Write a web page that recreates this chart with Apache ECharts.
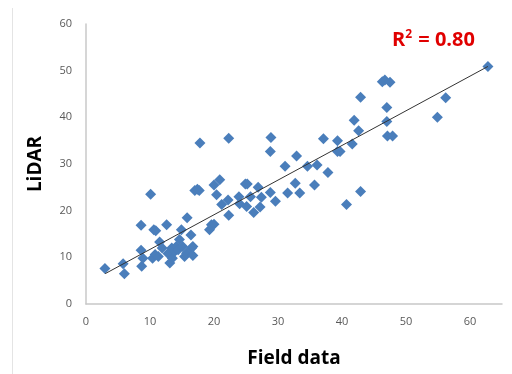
<!DOCTYPE html>
<html>
<head>
<meta charset="utf-8">
<script src="https://cdn.jsdelivr.net/npm/echarts@6/dist/echarts.min.js"></script>
<style>html,body{margin:0;padding:0;background:#fff}#c{width:512px;height:374px}</style>
</head>
<body>
<div id="c"></div>
<script>
const fieldData = [2.96,5.8,6.0,8.6,8.6,8.7,8.9,10.1,10.4,10.6,10.9,10.8,11.3,11.5,11.9,12.6,12.8,13.1,13.4,13.5,13.9,14.1,14.4,14.6,14.9,15.1,15.4,15.7,15.8,16.4,16.5,16.7,16.7,17.0,17.4,17.7,17.8,19.3,19.6,20.0,20.0,20.4,20.9,21.2,22.2,22.3,22.3,23.9,24.0,24.9,25.2,25.1,25.7,26.2,26.9,27.2,27.4,28.8,28.8,28.9,29.6,31.1,31.5,32.7,32.9,33.4,34.6,35.7,36.1,37.1,37.8,39.3,39.3,39.7,40.7,41.6,41.9,42.6,42.9,42.9,46.3,46.7,47.5,47.0,47.0,47.1,47.9,54.9,56.2,62.8];
const lidarData = [7.6,8.6,6.5,16.9,11.5,8.1,9.8,23.5,9.8,15.9,15.7,10.6,10.2,13.3,12.0,17.0,10.8,8.8,12.0,9.8,11.3,12.3,11.6,13.8,15.9,12.3,10.2,10.9,18.5,14.8,12.0,12.3,10.4,24.3,24.6,24.3,34.5,15.9,17.0,17.1,25.5,23.4,26.6,21.3,22.3,19.0,35.5,23.0,21.5,25.7,25.7,20.9,23.0,19.6,25.0,20.8,22.9,23.9,32.7,35.7,22.0,29.5,23.8,25.9,31.7,23.8,29.5,25.5,29.8,35.4,28.2,35.0,32.7,32.7,21.3,34.3,39.4,37.1,44.3,24.1,47.6,48.0,47.5,42.1,39.1,36.0,36.0,40.0,44.2,50.9];
const trendX = [3, 62.8];
const trendY = [6.5, 50.9];
const xTicks = [0,10,20,30,40,50,60];
const yTicks = [0,10,20,30,40,50,60];

const chart = echarts.init(document.getElementById('c'), null, {renderer:'canvas'});
const pts = fieldData.map((x,i)=>[x, lidarData[i]]);
const trend = trendX.map((x,i)=>[x, trendY[i]]);
chart.setOption({
  animation:false,
  backgroundColor:'#ffffff',
  grid:{left:86, right:10, top:24, bottom:70},
  xAxis:{
    type:'value', min:0, max:65, interval:10,
    name:'Field data', nameLocation:'middle', nameGap:45,
    nameTextStyle:{fontFamily:'Open Sans', fontWeight:'bold', fontSize:19, color:'#000'},
    axisLine:{show:true, lineStyle:{color:'#c8c8c8', width:1.5}},
    axisTick:{show:false},
    splitLine:{show:false},
    axisLabel:{fontFamily:'Open Sans', fontSize:11, color:'#595959', margin:12, showMaxLabel:false,
      formatter:v=> xTicks.includes(v)? String(v):''}
  },
  yAxis:{
    type:'value', min:0, max:60, interval:10,
    name:'LiDAR', nameLocation:'middle', nameGap:41, nameRotate:90,
    nameTextStyle:{fontFamily:'Open Sans', fontWeight:'bold', fontSize:19, color:'#000'},
    axisLine:{show:true, lineStyle:{color:'#c8c8c8', width:1.5}},
    axisTick:{show:false},
    splitLine:{show:false},
    axisLabel:{fontFamily:'Open Sans', fontSize:11, color:'#595959', margin:14,
      formatter:v=> yTicks.includes(v)? String(v):''}
  },
  graphic:[
    {type:'line', shape:{x1:12.5,y1:8,x2:12.5,y2:374}, style:{stroke:'#e4e4e4', lineWidth:1}},
    {type:'text', left:392, top:29, style:{
      text:'{r|R}{s|2}{r| = 0.80}',
      rich:{
        r:{fill:'#e00000', font:'bold 20px "Open Sans"', verticalAlign:'bottom'},
        s:{fill:'#e00000', font:'bold 12px "Open Sans"', verticalAlign:'top', padding:[0,1,9,0]}
      }
    }}
  ],
  series:[
    {type:'scatter', data:pts, symbol:'diamond', symbolSize:11,
      itemStyle:{color:'#4a7ebb', opacity:1}, z:2},
    {type:'line', data:trend, symbol:'none', lineStyle:{color:'#333', width:1}, z:3}
  ]
});
</script>
</body>
</html>
